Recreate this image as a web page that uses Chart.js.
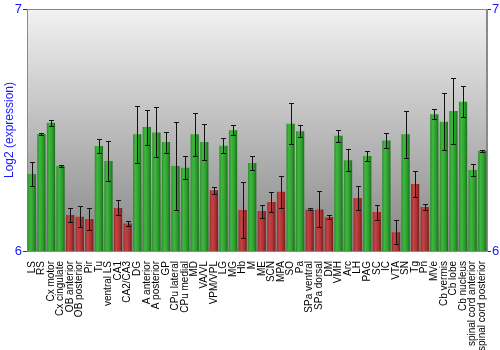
<!DOCTYPE html>
<html>
<head>
<meta charset="utf-8">
<script src="https://cdn.jsdelivr.net/npm/chart.js@4/dist/chart.umd.min.js"></script>
<style>
  html, body { margin: 0; padding: 0; background: #fff; }
  canvas { display: block; }
</style>
</head>
<body>
<canvas id="c" width="500" height="350"></canvas>
<script>
// Brain regions along the x axis
const regions = [
  'LS', 'RS', 'Cx motor', 'Cx cingulate', 'OB anterior', 'OB posterior', 'Pir', 'Tu',
  'ventral LS', 'CA1', 'CA2/CA3', 'DG', 'A anterior', 'A posterior', 'GP', 'CPu lateral',
  'CPu medial', 'MD', 'VA/VL', 'VPM/VPL', 'LG', 'MG', 'Hb', 'M', 'ME', 'SCN', 'MPA', 'SO',
  'Pa', 'SPa ventral', 'SPa dorsal', 'DM', 'VMH', 'Arc', 'LH', 'PAG', 'SC', 'IC', 'VTA',
  'SN', 'Tg', 'Pn', 'MVe', 'Cb vermis', 'Cb lobe', 'Cb nucleus',
  'spinal cord anterior', 'spinal cord posterior'
];

// Mean log2 expression per region
const expression = [
  6.318, 6.483, 6.530, 6.351, 6.149, 6.142, 6.132, 6.434,
  6.372, 6.178, 6.114, 6.482, 6.512, 6.490, 6.450, 6.351,
  6.344, 6.482, 6.450, 6.251, 6.435, 6.499, 6.169, 6.364, 6.165, 6.202, 6.245, 6.526,
  6.495, 6.172, 6.172, 6.140, 6.476, 6.375, 6.219, 6.393, 6.161, 6.457, 6.077,
  6.482, 6.277, 6.182, 6.565, 6.534, 6.579, 6.617,
  6.335, 6.414
];

// Error (± around the mean)
const spread = [
  0.050, 0.003, 0.012, 0.004, 0.030, 0.042, 0.047, 0.030,
  0.083, 0.031, 0.010, 0.118, 0.072, 0.103, 0.043, 0.183,
  0.048, 0.090, 0.074, 0.015, 0.032, 0.020, 0.116, 0.030, 0.027, 0.040, 0.066, 0.085,
  0.025, 0.004, 0.074, 0.007, 0.024, 0.045, 0.048, 0.022, 0.031, 0.030, 0.050,
  0.096, 0.055, 0.013, 0.020, 0.117, 0.136, 0.063,
  0.026, 0.004
];

// Regions drawn in red (low expression group)
const lowRegions = [
  'OB anterior', 'OB posterior', 'Pir', 'CA1', 'CA2/CA3', 'VPM/VPL', 'Hb', 'ME', 'SCN',
  'MPA', 'SPa ventral', 'SPa dorsal', 'DM', 'LH', 'SC', 'VTA', 'Tg', 'Pn'
];

// Value axis tick labels
const yTicks = [6, 7];

const BAR_PCT = 0.86;
const BLUE = '#1a1aff';
const FONT = 'Liberation Sans, Arial, sans-serif';

function barFill(ctx) {
  const chart = ctx.chart;
  const xs = chart.scales.x;
  const low = lowRegions.includes(regions[ctx.dataIndex]);
  if (!xs || !chart.chartArea) return low ? '#b03535' : '#2f9f2f';
  const cx = xs.getPixelForValue(ctx.dataIndex);
  const half = xs.width / regions.length * BAR_PCT / 2;
  const g = chart.ctx.createLinearGradient(cx - half, 0, cx + half, 0);
  if (low) {
    g.addColorStop(0, '#9a2a2a');
    g.addColorStop(0.3, '#c44545');
    g.addColorStop(0.7, '#a83232');
    g.addColorStop(1, '#7a1c1c');
  } else {
    g.addColorStop(0, '#2a8e2a');
    g.addColorStop(0.3, '#3fb83f');
    g.addColorStop(0.7, '#2c9c2c');
    g.addColorStop(1, '#1a6e1a');
  }
  return g;
}

// Gray vertical gradient behind the plot, plus frame
const plotBackground = {
  id: 'plotBackground',
  beforeDatasetsDraw(chart) {
    const { ctx, chartArea: a } = chart;
    ctx.save();
    const g = ctx.createLinearGradient(0, a.top, 0, a.bottom);
    g.addColorStop(0, '#f2f2f2');
    g.addColorStop(1, '#858585');
    ctx.fillStyle = g;
    ctx.fillRect(a.left, a.top, a.right - a.left, a.bottom - a.top);
    ctx.strokeStyle = '#8a8a8a';
    ctx.lineWidth = 1;
    ctx.strokeRect(a.left + 0.5, a.top + 0.5, a.right - a.left - 1, a.bottom - a.top);
    ctx.restore();
  }
};

// Error bars drawn over each bar
const errorBars = {
  id: 'errorBars',
  afterDatasetsDraw(chart) {
    const { ctx } = chart;
    const ys = chart.scales.y;
    const meta = chart.getDatasetMeta(0);
    ctx.save();
    ctx.strokeStyle = '#111';
    ctx.lineWidth = 1;
    meta.data.forEach((bar, i) => {
      const x = Math.round(bar.x) + 0.5;
      const top = Math.round(ys.getPixelForValue(expression[i] + spread[i])) + 0.5;
      const bot = Math.round(ys.getPixelForValue(expression[i] - spread[i])) + 0.5;
      ctx.beginPath();
      ctx.moveTo(x, top); ctx.lineTo(x, bot);
      ctx.moveTo(x - 2.5, top); ctx.lineTo(x + 2.5, top);
      ctx.moveTo(x - 2.5, bot); ctx.lineTo(x + 2.5, bot);
      ctx.stroke();
    });
    ctx.restore();
  }
};

new Chart(document.getElementById('c'), {
  type: 'bar',
  data: {
    labels: regions,
    datasets: [{
      data: expression,
      backgroundColor: barFill,
      borderWidth: 0,
      barPercentage: BAR_PCT,
      categoryPercentage: 1
    }]
  },
  options: {
    responsive: false,
    animation: false,
    layout: { padding: { top: 9 } },
    plugins: { legend: { display: false }, tooltip: { enabled: false } },
    scales: {
      x: {
        grid: { display: false },
        border: { display: false },
        ticks: {
          autoSkip: false,
          minRotation: 90,
          maxRotation: 90,
          padding: 2,
          color: '#000',
          font: { family: FONT, size: 10 }
        },
        afterFit(scale) { scale.height = 99; }
      },
      y: {
        position: 'left',
        min: yTicks[0],
        max: yTicks[yTicks.length - 1],
        afterBuildTicks(scale) { scale.ticks = yTicks.map(v => ({ value: v })); },
        grid: { drawOnChartArea: false, tickLength: 4, color: '#333' },
        border: { color: '#8a8a8a' },
        ticks: {
          color: BLUE,
          padding: 1,
          font: { family: FONT, size: 13 }
        },
        title: {
          display: true,
          text: 'Log2 (expression)',
          color: BLUE,
          padding: { top: 2, bottom: 0 },
          font: { family: FONT, size: 12 }
        },
        afterFit(scale) { scale.width = 27; }
      },
      y2: {
        position: 'right',
        min: yTicks[0],
        max: yTicks[yTicks.length - 1],
        afterBuildTicks(scale) { scale.ticks = yTicks.map(v => ({ value: v })); },
        grid: { drawOnChartArea: false, tickLength: 4, color: '#333' },
        border: { color: '#8a8a8a' },
        ticks: {
          color: BLUE,
          padding: 1,
          font: { family: FONT, size: 13 }
        },
        afterFit(scale) { scale.width = 13; }
      }
    }
  },
  plugins: [plotBackground, errorBars]
});
</script>
</body>
</html>
